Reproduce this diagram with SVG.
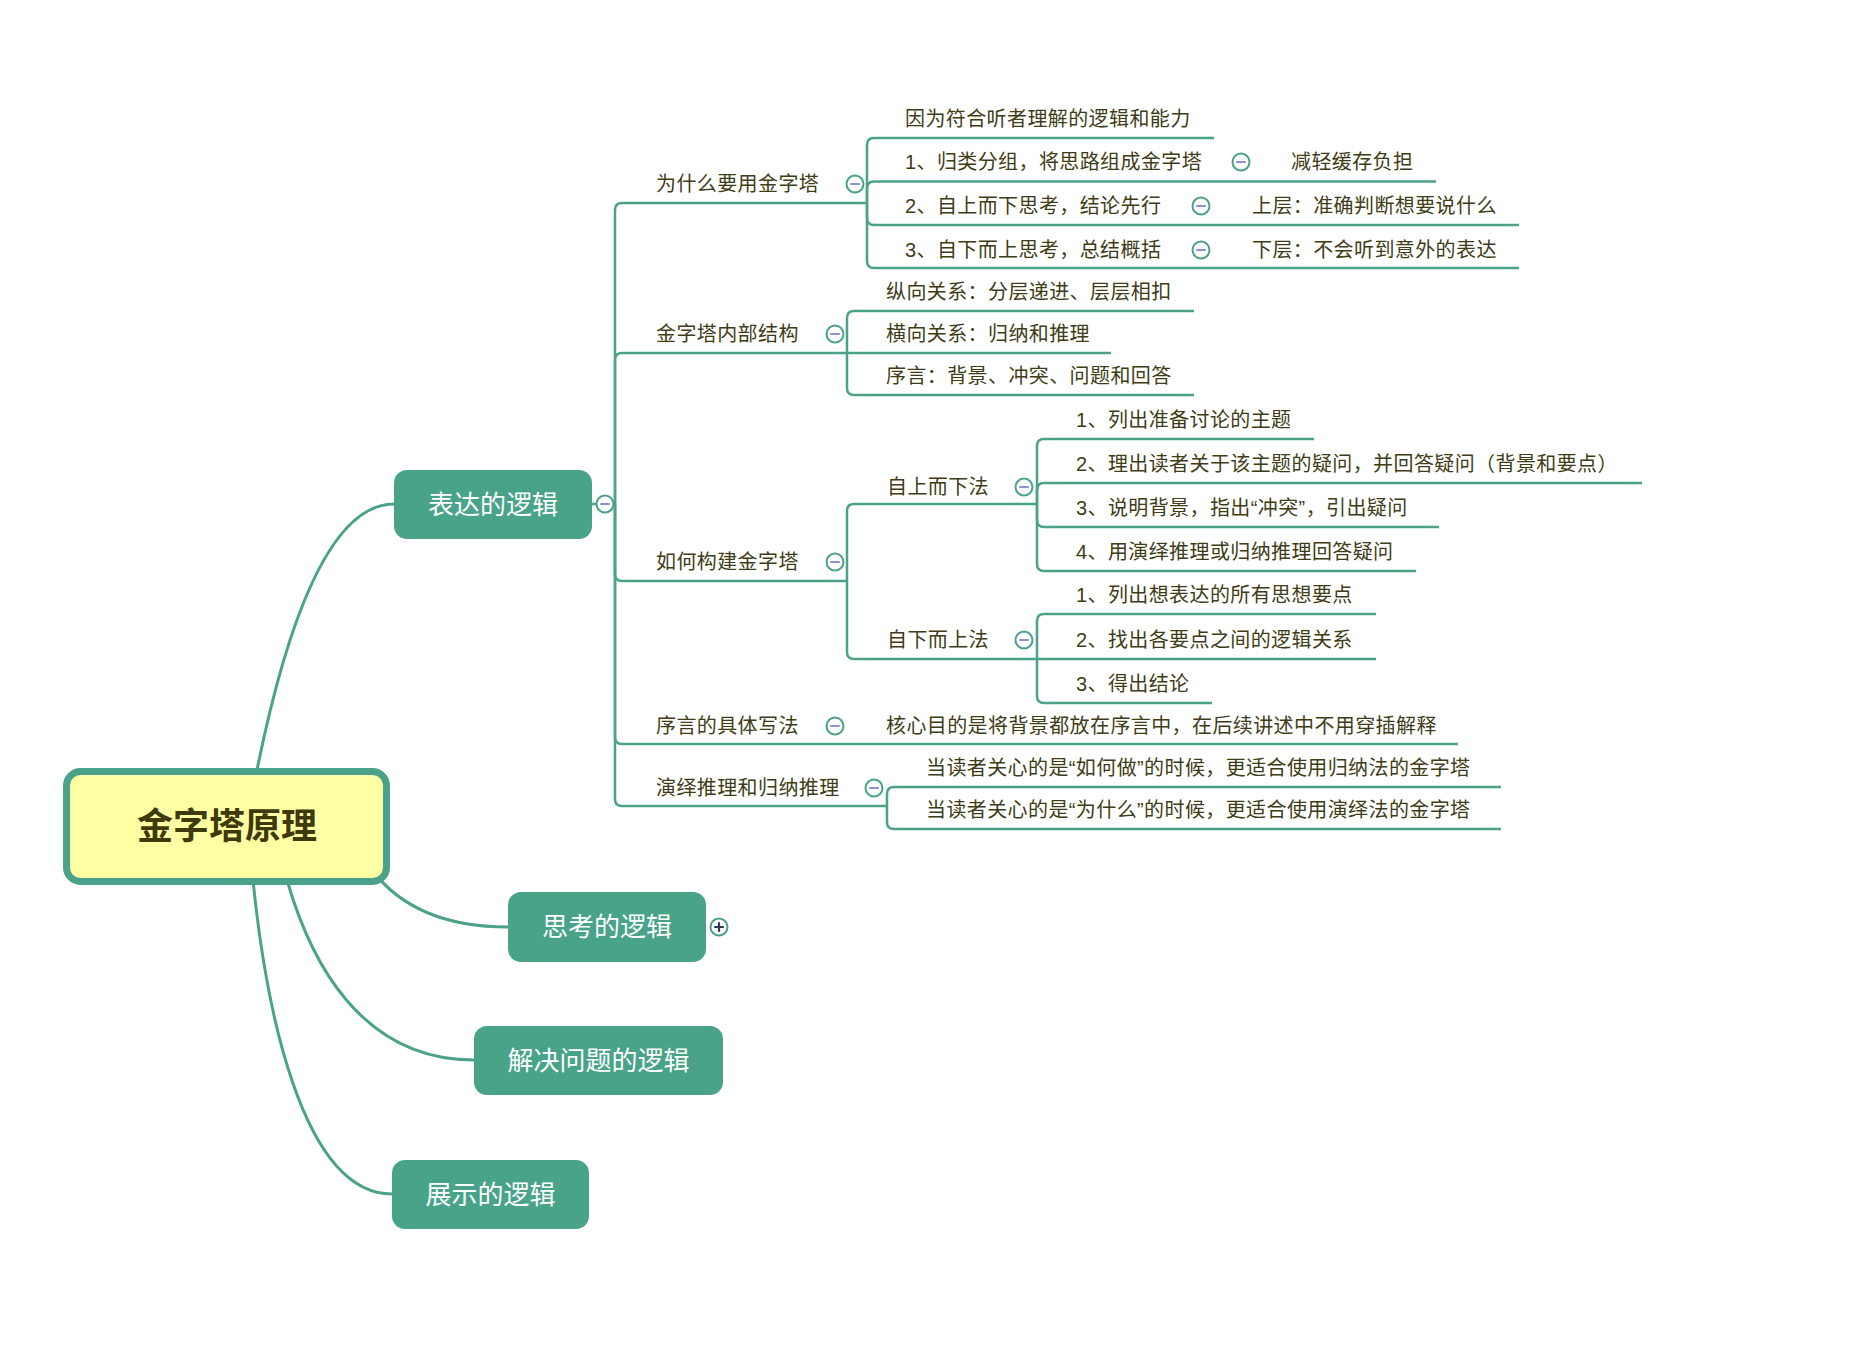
<svg xmlns="http://www.w3.org/2000/svg" width="1862" height="1356" viewBox="0 0 1862 1356">
<style>
.bg{fill:#ffffff}
.c1{fill:none;stroke:#4aa28a;stroke-width:3;stroke-linecap:round}
.c2{fill:none;stroke:#4aa28a;stroke-width:2.5;stroke-linecap:butt}
.n1{fill:#48a389}
.t1{font-family:"Noto Sans CJK SC","Noto Sans",sans-serif;font-size:26px;fill:#ffffff;text-anchor:middle}
.t0{font-family:"Noto Sans CJK SC","Noto Sans",sans-serif;font-size:36px;font-weight:700;fill:#3f3a0c;text-anchor:middle}
.t{font-family:"Liberation Sans","Noto Sans CJK SC",sans-serif;font-size:20px;fill:#403c16;letter-spacing:0.4px}
.tg{fill:#ffffff;stroke:#4aa28a;stroke-width:2}
.mn{stroke:#8c8fd2;stroke-width:2;stroke-linecap:round}
.pl{stroke:#2b3a55;stroke-width:2.2;stroke-linecap:round}
</style>
<rect class="bg" x="0" y="0" width="1862" height="1356"/>
<g id="connectors">
<path class="c1" d="M256 775 Q310 504 394 504"/>
<path class="c1" d="M372 870 Q415 927 508 927"/>
<path class="c1" d="M287 880 C310 960 360 1060 474 1060"/>
<path class="c1" d="M253 880 C265 1000 300 1194 392 1194"/>
<path class="c2" d="M592 504 H615"/>
<path class="c2" d="M615 504 V210 Q615 203 622 203 H867"/>
<path class="c2" d="M615 504 V360 Q615 353 622 353 H847"/>
<path class="c2" d="M615 504 V574 Q615 581 622 581 H847"/>
<path class="c2" d="M615 504 V737 Q615 744 622 744 H1458"/>
<path class="c2" d="M615 504 V799 Q615 806 622 806 H887"/>
<path class="c2" d="M867 203 V145 Q867 138 874 138 H1214"/>
<path class="c2" d="M867 203 V188.5 Q867 181.5 874 181.5 H1436"/>
<path class="c2" d="M867 203 V218 Q867 225 874 225 H1519"/>
<path class="c2" d="M867 203 V261 Q867 268 874 268 H1519"/>
<path class="c2" d="M847 353 V318 Q847 311 854 311 H1194"/>
<path class="c2" d="M847 353 H1111"/>
<path class="c2" d="M847 353 V388 Q847 395 854 395 H1194"/>
<path class="c2" d="M847 581 V511 Q847 504 854 504 H1037"/>
<path class="c2" d="M847 581 V652 Q847 659 854 659 H1037"/>
<path class="c2" d="M1037 504 V446 Q1037 439 1044 439 H1314"/>
<path class="c2" d="M1037 504 V490 Q1037 483 1044 483 H1642"/>
<path class="c2" d="M1037 504 V520 Q1037 527 1044 527 H1439"/>
<path class="c2" d="M1037 504 V564 Q1037 571 1044 571 H1416"/>
<path class="c2" d="M1037 659 V621 Q1037 614 1044 614 H1376"/>
<path class="c2" d="M1037 659 H1376"/>
<path class="c2" d="M1037 659 V696 Q1037 703 1044 703 H1212"/>
<path class="c2" d="M887 806 V794 Q887 787 894 787 H1501"/>
<path class="c2" d="M887 806 V822 Q887 829 894 829 H1501"/>
</g>
<g id="root">
<rect x="66.5" y="771.5" width="320" height="110" rx="14" fill="#ffffa3" stroke="#4aa28a" stroke-width="7"/>
<text class="t0" x="227" y="839">金字塔原理</text>
</g>
<g id="n-biaoda">
<rect class="n1" x="394" y="470" width="198" height="69" rx="13"/>
<text class="t1" x="493" y="513.5">表达的逻辑</text>
<circle class="tg" cx="605" cy="504" r="8.5"/><line class="mn" x1="601" y1="504" x2="609" y2="504"/>
</g>
<g id="n-sikao">
<rect class="n1" x="508" y="892" width="198" height="70" rx="13"/>
<text class="t1" x="607" y="936">思考的逻辑</text>
<circle class="tg" cx="719" cy="927" r="8.5"/><line class="pl" x1="715" y1="927" x2="723" y2="927"/><line class="pl" x1="719" y1="923" x2="719" y2="931"/>
</g>
<g id="n-jiejue">
<rect class="n1" x="474" y="1026" width="249" height="69" rx="13"/>
<text class="t1" x="598.5" y="1069.5">解决问题的逻辑</text>
</g>
<g id="n-zhanshi">
<rect class="n1" x="392" y="1160" width="197" height="69" rx="13"/>
<text class="t1" x="490.5" y="1203.5">展示的逻辑</text>
</g>
<g id="n-why">
<text class="t" x="656" y="191">为什么要用金字塔</text>
<circle class="tg" cx="855" cy="184" r="8.5"/><line class="mn" x1="851" y1="184" x2="859" y2="184"/>
</g>
<g id="n-why-0"><text class="t" x="905" y="125.5">因为符合听者理解的逻辑和能力</text></g>
<g id="n-why-1">
<text class="t" x="905" y="169">1、归类分组，将思路组成金字塔</text>
<circle class="tg" cx="1241" cy="162" r="8.5"/><line class="mn" x1="1237" y1="162" x2="1245" y2="162"/>
</g>
<g id="n-why-1-0"><text class="t" x="1291" y="169">减轻缓存负担</text></g>
<g id="n-why-2">
<text class="t" x="905" y="213">2、自上而下思考，结论先行</text>
<circle class="tg" cx="1201" cy="206" r="8.5"/><line class="mn" x1="1197" y1="206" x2="1205" y2="206"/>
</g>
<g id="n-why-2-0"><text class="t" x="1252" y="213">上层：准确判断想要说什么</text></g>
<g id="n-why-3">
<text class="t" x="905" y="257">3、自下而上思考，总结概括</text>
<circle class="tg" cx="1201" cy="250" r="8.5"/><line class="mn" x1="1197" y1="250" x2="1205" y2="250"/>
</g>
<g id="n-why-3-0"><text class="t" x="1252" y="257">下层：不会听到意外的表达</text></g>
<g id="n-struct">
<text class="t" x="656" y="341">金字塔内部结构</text>
<circle class="tg" cx="835" cy="334" r="8.5"/><line class="mn" x1="831" y1="334" x2="839" y2="334"/>
</g>
<g id="n-struct-0"><text class="t" x="886" y="299">纵向关系：分层递进、层层相扣</text></g>
<g id="n-struct-1"><text class="t" x="886" y="341">横向关系：归纳和推理</text></g>
<g id="n-struct-2"><text class="t" x="886" y="383">序言：背景、冲突、问题和回答</text></g>
<g id="n-build">
<text class="t" x="656" y="569">如何构建金字塔</text>
<circle class="tg" cx="835" cy="562" r="8.5"/><line class="mn" x1="831" y1="562" x2="839" y2="562"/>
</g>
<g id="n-topdown">
<text class="t" x="887" y="494">自上而下法</text>
<circle class="tg" cx="1024" cy="487" r="8.5"/><line class="mn" x1="1020" y1="487" x2="1028" y2="487"/>
</g>
<g id="n-td-1"><text class="t" x="1076" y="427">1、列出准备讨论的主题</text></g>
<g id="n-td-2"><text class="t" x="1076" y="471">2、理出读者关于该主题的疑问，并回答疑问（背景和要点）</text></g>
<g id="n-td-3"><text class="t" x="1076" y="515">3、说明背景，指出“冲突”，引出疑问</text></g>
<g id="n-td-4"><text class="t" x="1076" y="559">4、用演绎推理或归纳推理回答疑问</text></g>
<g id="n-bottomup">
<text class="t" x="887" y="647">自下而上法</text>
<circle class="tg" cx="1024" cy="640" r="8.5"/><line class="mn" x1="1020" y1="640" x2="1028" y2="640"/>
</g>
<g id="n-bu-1"><text class="t" x="1076" y="602">1、列出想表达的所有思想要点</text></g>
<g id="n-bu-2"><text class="t" x="1076" y="647">2、找出各要点之间的逻辑关系</text></g>
<g id="n-bu-3"><text class="t" x="1076" y="691">3、得出结论</text></g>
<g id="n-preface">
<text class="t" x="656" y="733">序言的具体写法</text>
<circle class="tg" cx="835" cy="726" r="8.5"/><line class="mn" x1="831" y1="726" x2="839" y2="726"/>
</g>
<g id="n-preface-0"><text class="t" x="886" y="733">核心目的是将背景都放在序言中，在后续讲述中不用穿插解释</text></g>
<g id="n-deduct">
<text class="t" x="656" y="795">演绎推理和归纳推理</text>
<circle class="tg" cx="874" cy="788" r="8.5"/><line class="mn" x1="870" y1="788" x2="878" y2="788"/>
</g>
<g id="n-deduct-0"><text class="t" x="926" y="775">当读者关心的是“如何做”的时候，更适合使用归纳法的金字塔</text></g>
<g id="n-deduct-1"><text class="t" x="926" y="817">当读者关心的是“为什么”的时候，更适合使用演绎法的金字塔</text></g>
</svg>
